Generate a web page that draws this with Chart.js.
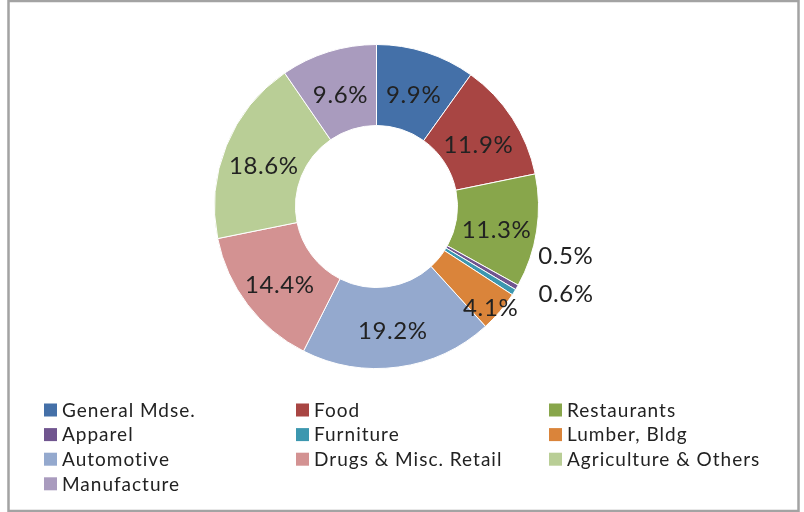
<!DOCTYPE html>
<html>
<head>
<meta charset="utf-8">
<script src="https://cdn.jsdelivr.net/npm/chart.js@4.4.1/dist/chart.umd.min.js"></script>
<style>
  html, body { margin: 0; padding: 0; background: #fff; }
  #wrap { width: 804px; height: 512px; }
</style>
</head>
<body>
<div id="wrap"><canvas id="c" width="804" height="512"></canvas></div>
<script>
// Sales mix by sector (percent of total)
const categories = [
  'General Mdse.', 'Food', 'Restaurants', 'Apparel', 'Furniture',
  'Lumber, Bldg', 'Automotive', 'Drugs & Misc. Retail', 'Agriculture & Others', 'Manufacture'
];
const shares = [9.9, 11.9, 11.3, 0.5, 0.6, 4.1, 19.2, 14.4, 18.6, 9.6];
const sliceColors = [
  '#4470A8', '#A84543', '#88A64B', '#70558F', '#3C97AF',
  '#DA843A', '#94A9CE', '#D39292', '#B9CE96', '#A99BBE'
];

const TEXT = '#222222';

// Grey outline around the whole figure
const framePlugin = {
  id: 'frame',
  beforeDraw(chart) {
    const ctx = chart.ctx;
    ctx.save();
    ctx.fillStyle = '#ffffff';
    ctx.fillRect(0, 0, chart.width, chart.height);
    ctx.strokeStyle = '#a3a3a3';
    ctx.lineWidth = 2.5;
    ctx.strokeRect(8.5, 1, 790, 510);
    ctx.restore();
  }
};

// Percentage labels: inside the ring by default, pushed out for thin slices
const sliceLabelPlugin = {
  id: 'sliceLabels',
  afterDatasetsDraw(chart, args, opts) {
    const ctx = chart.ctx;
    const meta = chart.getDatasetMeta(0);
    const values = chart.data.datasets[0].data;
    ctx.save();
    ctx.font = opts.font;
    if ('letterSpacing' in ctx) ctx.letterSpacing = opts.letterSpacing;
    ctx.fillStyle = TEXT;
    ctx.textAlign = 'center';
    ctx.textBaseline = 'alphabetic';
    meta.data.forEach((arc, i) => {
      const p = arc.getProps(['x', 'y', 'startAngle', 'endAngle', 'innerRadius', 'outerRadius'], true);
      const mid = (p.startAngle + p.endAngle) / 2;
      const place = opts.placement[i] || {};
      let x, y;
      if (place.outside) {
        x = p.x + Math.cos(mid) * p.outerRadius + place.dx;
        y = p.y + Math.sin(mid) * p.outerRadius + place.dy;
      } else {
        const f = place.radius !== undefined ? place.radius : 0.5;
        const r = p.innerRadius + (p.outerRadius - p.innerRadius) * f;
        x = p.x + Math.cos(mid) * r;
        y = p.y + Math.sin(mid) * r + opts.shiftY;
      }
      ctx.fillText(values[i].toFixed(1) + '%', x, y + opts.digitHalf);
    });
    ctx.restore();
  }
};

// Three-column legend under the ring
const gridLegendPlugin = {
  id: 'gridLegend',
  afterDraw(chart, args, opts) {
    const ctx = chart.ctx;
    const ds = chart.data.datasets[0];
    ctx.save();
    ctx.font = opts.font;
    if ('letterSpacing' in ctx) ctx.letterSpacing = opts.letterSpacing;
    ctx.textAlign = 'left';
    ctx.textBaseline = 'alphabetic';
    chart.data.labels.forEach((label, i) => {
      const col = i % opts.columns.length;
      const row = Math.floor(i / opts.columns.length);
      const bx = opts.columns[col];
      const cy = opts.top + row * opts.rowGap;
      ctx.fillStyle = ds.backgroundColor[i];
      ctx.fillRect(bx, cy - opts.box / 2, opts.box, opts.box);
      ctx.fillStyle = TEXT;
      ctx.fillText(label, bx + opts.box + opts.textGap, cy + opts.capHalf);
    });
    ctx.restore();
  }
};

new Chart(document.getElementById('c'), {
  type: 'doughnut',
  data: {
    labels: categories,
    datasets: [{
      data: shares,
      backgroundColor: sliceColors,
      borderColor: '#ffffff',
      borderWidth: 1,
      hoverOffset: 0
    }]
  },
  options: {
    responsive: false,
    devicePixelRatio: 1,
    animation: false,
    cutout: '50%',
    layout: { padding: { top: 44, bottom: 143, left: 214, right: 265 } },
    plugins: {
      legend: { display: false },
      tooltip: { enabled: false },
      sliceLabels: {
        font: '24px Lato',
        letterSpacing: '0.6px',
        digitHalf: 8.6,
        shiftY: 4,
        placement: {
          3: { outside: true, dx: 49, dy: -32 },
          4: { outside: true, dx: 52, dy: 1 },
          5: { radius: 0.85 }
        }
      },
      gridLegend: {
        font: '19px Lato',
        letterSpacing: '1px',
        columns: [44, 296, 549],
        top: 410,
        rowGap: 24.6,
        box: 13,
        textGap: 5,
        capHalf: 6.8
      }
    }
  },
  plugins: [framePlugin, sliceLabelPlugin, gridLegendPlugin]
});
</script>
</body>
</html>
